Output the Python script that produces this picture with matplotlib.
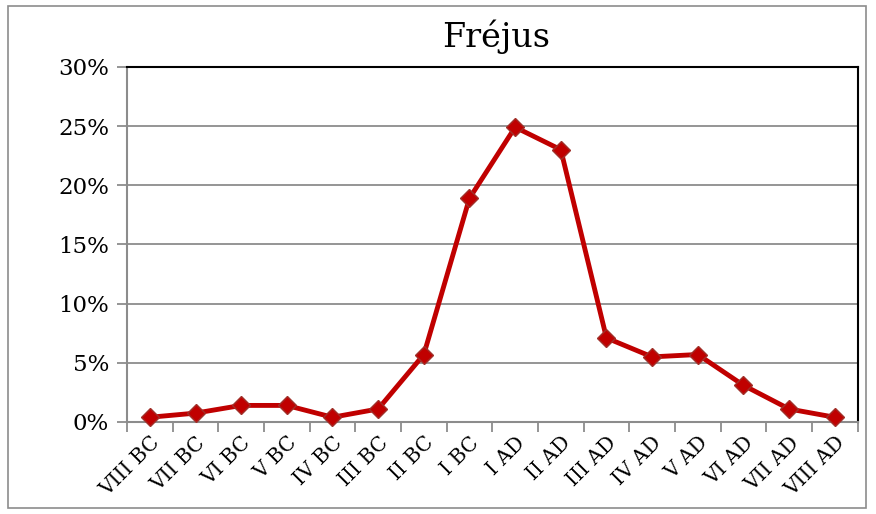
import matplotlib
matplotlib.use("Agg")
import matplotlib.pyplot as plt
from matplotlib.patches import Rectangle
from matplotlib.ticker import FixedLocator, PercentFormatter

categories = ["VIII BC", "VII BC", "VI BC", "V BC", "IV BC", "III BC", "II BC", "I BC",
              "I AD", "II AD", "III AD", "IV AD", "V AD", "VI AD", "VII AD", "VIII AD"]
values = [0.4, 0.75, 1.4, 1.4, 0.4, 1.1, 5.7, 18.9, 24.9, 23.0, 7.1, 5.5, 5.7, 3.1, 1.1, 0.4]
yticks = [0, 5, 10, 15, 20, 25, 30]
title = "Fréjus"

plt.rcParams['font.family'] = ['DejaVu Serif']

fig = plt.figure(figsize=(8.76, 5.14), dpi=100)
ax = fig.add_axes([0.145, 0.179, 0.834, 0.691])

x = list(range(len(categories)))
ax.plot(x, values, color="#C00000", linewidth=3.5, marker="D", markersize=9.5,
        markerfacecolor="#C00000", markeredgecolor="#A0302A", markeredgewidth=1.0,
        zorder=3, clip_on=False)

ax.set_xlim(-0.5, len(categories) - 0.5)
ax.set_ylim(0, 30)
ax.set_yticks(yticks)
ax.yaxis.set_major_formatter(PercentFormatter(decimals=0))
ax.grid(axis="y", color="#8C8C8C", linewidth=1.3)
ax.set_axisbelow(True)

ax.set_xticks(x)
ax.set_xticklabels(categories, rotation=45, ha="right", va="top", rotation_mode="anchor", fontsize=14.5)
ax.xaxis.set_minor_locator(FixedLocator([i - 0.5 for i in range(len(categories) + 1)]))
ax.tick_params(axis="x", which="major", length=0, pad=8)
ax.tick_params(axis="x", which="minor", length=7, width=1.3, color="#8C8C8C")
ax.tick_params(axis="y", length=7, width=1.3, color="#8C8C8C", labelsize=16.5, pad=6)

for s in ["left", "bottom"]:
    ax.spines[s].set_color("#8C8C8C")
    ax.spines[s].set_linewidth(1.5)
for s in ["top", "right"]:
    ax.spines[s].set_color("black")
    ax.spines[s].set_linewidth(1.5)

fig.text(0.566, 0.928, title, ha="center", va="center", fontsize=24)

fig.patches.append(Rectangle((0.009, 0.012), 0.98, 0.976, transform=fig.transFigure,
                             fill=False, edgecolor="#8C8C8C", linewidth=1.2))

fig.savefig("out.png", dpi=100)
